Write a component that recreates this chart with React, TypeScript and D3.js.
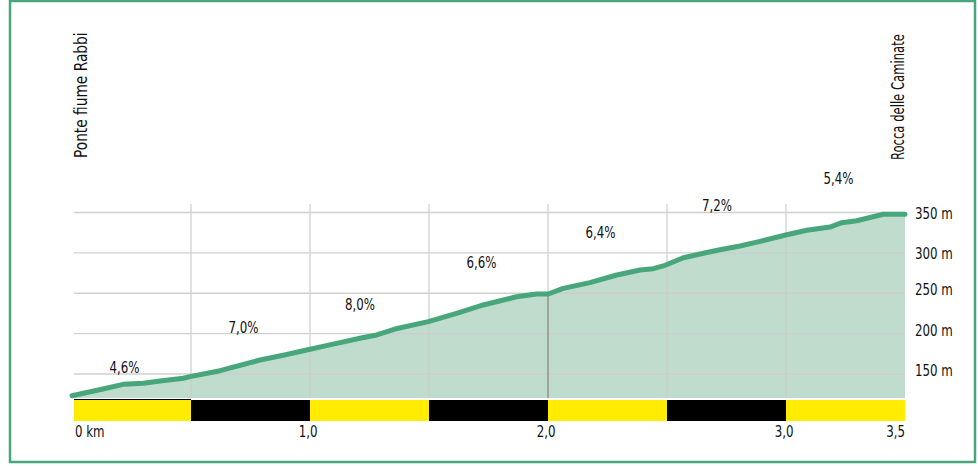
import React, { useEffect, useRef } from "react";
import * as d3 from "d3";

const km = [0, 0.13, 0.215, 0.3, 0.37, 0.468, 0.496, 0.622, 0.79, 0.888, 0.986, 1.112, 1.21, 1.28, 1.357, 1.497, 1.616, 1.728, 1.868, 1.952, 2.001, 2.064, 2.176, 2.289, 2.387, 2.442, 2.492, 2.569, 2.653, 2.723, 2.807, 2.891, 3.003, 3.087, 3.185, 3.234, 3.297, 3.409, 3.5];
const elev = [123, 131.4, 137.2, 138.5, 141.3, 144.7, 146.7, 154.1, 167.3, 173.2, 179.7, 188, 194.2, 198.3, 205.7, 214.8, 225.2, 235.5, 245.7, 249.1, 249.1, 256.1, 263.1, 272.6, 278.8, 280.4, 284.6, 294, 299.5, 303.9, 308.5, 314.3, 322.5, 328, 332, 337.4, 339.8, 347.8, 347.8];

const gradeKm = [0.22, 0.72, 1.21, 1.72, 2.22, 2.71, 3.22];
const gradeLabels = ["4,6%", "7,0%", "8,0%", "6,6%", "6,4%", "7,2%", "5,4%"];
const gradeAlt = [157, 207, 235, 287, 325, 358, 391];

const yTicks = [150, 200, 250, 300, 350];
const xGrid = [0.5, 1, 1.5, 2, 2.5, 3];
const xTickKm = [0, 1, 2, 3, 3.5];
const xTickLabels = ["0 km", "1,0", "2,0", "3,0", "3,5"];
const barEdges = [0, 0.5, 1, 1.5, 2, 2.5, 3, 3.5];
const startName = "Ponte fiume Rabbi";
const endName = "Rocca delle Caminate";

const FONT = "'DejaVu Sans Condensed', 'DejaVu Sans', sans-serif";
const GREEN = "#48a67b";
const FILL = "#c0dccd";
const YELLOW = "#ffec00";
const SX = 0.82;

export default function App() {
  const ref = useRef<SVGSVGElement>(null);
  useEffect(() => {
    const svg = d3.select(ref.current);
    svg.selectAll("*").remove();
    const x = d3.scaleLinear().domain([0, 3.5]).range([72, 905]);
    const y = d3.scaleLinear().domain([150, 350]).range([374, 212.5]);
    const base = 398;

    svg.append("rect").attr("x", 10).attr("y", 1).attr("width", 965).attr("height", 461)
      .attr("fill", "white").attr("stroke", GREEN).attr("stroke-width", 2.5);

    const pts = km.map((k, i) => [k, elev[i]] as [number, number]);
    const area = d3.area<[number, number]>().x(d => x(d[0])).y0(base).y1(d => y(d[1]));
    svg.append("path").attr("d", area(pts)!).attr("fill", FILL);

    const g = svg.append("g").attr("stroke", "#cccccc").attr("stroke-width", 1.3).attr("opacity", 0.9);
    yTicks.forEach(t => {
      g.append("line").attr("x1", x(0) + 2).attr("x2", x(3.5)).attr("y1", y(t)).attr("y2", y(t));
    });
    xGrid.forEach(k => {
      g.append("line").attr("x1", x(k)).attr("x2", x(k)).attr("y1", 204).attr("y2", base);
    });
    const e2 = elev[km.indexOf(2.001)];
    svg.append("line").attr("x1", x(2)).attr("x2", x(2)).attr("y1", y(e2)).attr("y2", base)
      .attr("stroke", "#8a8a8a").attr("stroke-width", 1.3);

    const line = d3.line<[number, number]>().x(d => x(d[0])).y(d => y(d[1]));
    svg.append("path").attr("d", line(pts)!).attr("fill", "none").attr("stroke", GREEN)
      .attr("stroke-width", 5).attr("stroke-linecap", "round").attr("stroke-linejoin", "round");

    for (let i = 0; i < barEdges.length - 1; i++) {
      svg.append("rect").attr("x", x(barEdges[i]) + (i === 0 ? 2 : 0)).attr("y", 400)
        .attr("width", x(barEdges[i + 1]) - x(barEdges[i]) - (i === 0 ? 2 : 0)).attr("height", 21)
        .attr("fill", i % 2 === 0 ? YELLOW : "#000");
    }
    svg.append("line").attr("x1", x(0) + 2).attr("x2", x(0.5)).attr("y1", 399.5).attr("y2", 399.5)
      .attr("stroke", "#000").attr("stroke-width", 1);

    const txt = svg.append("g").attr("font-family", FONT).attr("fill", "#111").attr("font-size", 16);
    const put = (tx: number, ty: number, s: string, anchor: string, rot = 0, sx = SX, fs = 16) => {
      txt.append("text")
        .attr("transform", `translate(${tx},${ty}) rotate(${rot}) scale(${sx},1)`)
        .attr("font-size", fs)
        .attr("text-anchor", anchor).text(s);
    };
    yTicks.forEach(t => {
      put(915, y(t) + (t >= 300 ? 6 : 2), `${t} m`, "start");
    });
    xTickKm.forEach((k, i) => {
      put(i === 0 ? x(k) + 3 : i === 4 ? x(k) : x(k) - 2, 437, xTickLabels[i],
        i === 0 ? "start" : i === 4 ? "end" : "middle");
    });
    gradeKm.forEach((k, i) => {
      put(x(k), y(gradeAlt[i]) + 5, gradeLabels[i], "middle");
    });
    put(87, 158, startName, "start", -90, 0.9, 17);
    put(904, 160, endName, "start", -90, 0.76, 17);
  }, []);
  return (
    <svg ref={ref} width={978} height={466}
      style={{ position: "absolute", left: 0, top: 0, display: "block" }} />
  );
}
